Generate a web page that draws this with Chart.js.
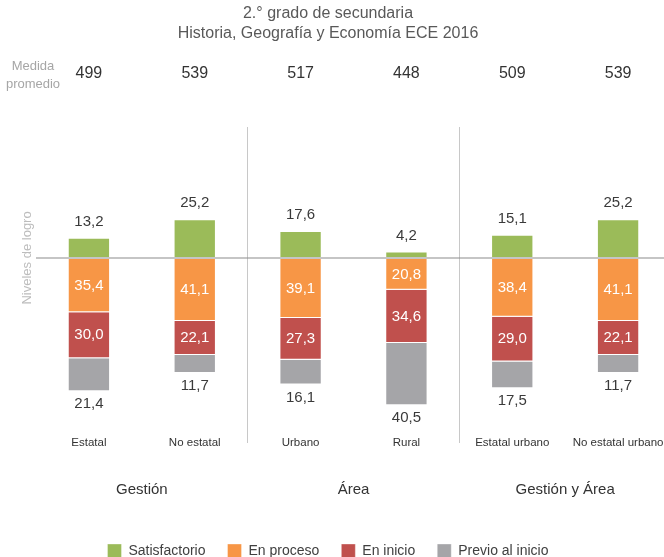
<!DOCTYPE html>
<html>
<head>
<meta charset="utf-8">
<script src="https://cdn.jsdelivr.net/npm/chart.js@4/dist/chart.umd.min.js"></script>
<style>
  html, body { margin: 0; padding: 0; background: #fff; overflow: hidden; }
  #wrap { width: 671px; height: 557px; }
</style>
</head>
<body>
<div id="wrap"><canvas id="chart"></canvas></div>
<script>
var categories = ['Estatal', 'No estatal', 'Urbano', 'Rural', 'Estatal urbano', 'No estatal urbano'];
var groups = ['Gestión', 'Área', 'Gestión y Área'];
var medida = [499, 539, 517, 448, 509, 539];

var satisfactorio = [13.2, 25.2, 17.6, 4.2, 15.1, 25.2];
var enProceso = [35.4, 41.1, 39.1, 20.8, 38.4, 41.1];
var enInicio = [30.0, 22.1, 27.3, 34.6, 29.0, 22.1];
var previo = [21.4, 11.7, 16.1, 40.5, 17.5, 11.7];

var seriesNames = ['Satisfactorio', 'En proceso', 'En inicio', 'Previo al inicio'];
var seriesValues = [satisfactorio, enProceso, enInicio, previo];
var seriesColors = ['#9bbb59', '#f79646', '#c0504d', '#a5a5a8'];

var FONT = '"Liberation Sans", Arial, sans-serif';
var perGroup = categories.length / groups.length;

function fmt(v) {
    return v.toFixed(1).replace('.', ',');
}

// vertical lines between groups (grid lines sit on the category edges)
function sepColor(c) {
    return (c.index > 0 && c.index < categories.length && c.index % perGroup === 0) ? '#c8c8c8' : 'rgba(0,0,0,0)';
}

var extras = {
    id: 'extras',
    afterDatasetsDraw: function(chart) {
        var ctx = chart.ctx;
        var xScale = chart.scales.x;
        var yScale = chart.scales.y;
        ctx.save();
        ctx.textAlign = 'center';
        ctx.textBaseline = 'middle';

        // value labels
        ctx.font = '15px ' + FONT;
        seriesValues.forEach(function(vals, i) {
            chart.getDatasetMeta(i).data.forEach(function(bar, j) {
                var y;
                if (i === 0) {
                    y = bar.y - 16;
                    ctx.fillStyle = '#3a3a3a';
                } else if (i === seriesValues.length - 1) {
                    y = bar.y + 13;
                    ctx.fillStyle = '#3a3a3a';
                } else {
                    y = (bar.y + bar.base) / 2;
                    ctx.fillStyle = '#ffffff';
                }
                ctx.fillText(fmt(vals[j]), bar.x, y);
            });
        });

        // medida promedio row
        var rowY = chart.chartArea.top - 53;
        ctx.font = '16px ' + FONT;
        ctx.fillStyle = '#333333';
        medida.forEach(function(m, j) {
            ctx.fillText(String(m), xScale.getPixelForValue(j), rowY);
        });
        ctx.font = '13px ' + FONT;
        ctx.fillStyle = '#a6a6a6';
        ctx.fillText('Medida', 33, rowY - 8);
        ctx.fillText('promedio', 33, rowY + 10);

        // y title centred on the zero line
        ctx.fillStyle = '#bdbdbd';
        ctx.translate(27, yScale.getPixelForValue(0));
        ctx.rotate(-Math.PI / 2);
        ctx.fillText('Niveles de logro', 0, 0);
        ctx.restore();
    }
};

var datasets = seriesValues.map(function(vals, i) {
    return {
        label: seriesNames[i],
        data: i === 0 ? vals.slice() : vals.map(function(v) { return -v; }),
        backgroundColor: seriesColors[i],
        borderColor: 'rgba(255, 255, 255, 0.35)',
        borderWidth: 1,
        barPercentage: 0.4,
        categoryPercentage: 1
    };
});

var ctx = document.getElementById('chart').getContext('2d');
var chart = new Chart(ctx, {
    type: 'bar',
    data: {
        labels: categories,
        datasets: datasets
    },
    plugins: [extras],
    options: {
        responsive: true,
        maintainAspectRatio: false,
        animation: false,
        layout: {
            padding: { left: -15, right: 0, top: 0, bottom: -11 }
        },
        plugins: {
            title: {
                display: true,
                text: ['2.° grado de secundaria', 'Historia, Geografía y Economía ECE 2016'],
                color: '#595959',
                font: { family: FONT, size: 16, weight: 'normal', lineHeight: 1.2 },
                padding: { top: 4.4, bottom: 84.2 }
            },
            legend: {
                position: 'bottom',
                labels: {
                    boxWidth: 14,
                    boxHeight: 14,
                    padding: 22,
                    color: '#404040',
                    font: { family: FONT, size: 14 }
                }
            },
            tooltip: { enabled: false }
        },
        scales: {
            x: {
                stacked: true,
                offset: true,
                weight: 0,
                grid: {
                    offset: true,
                    color: sepColor,
                    tickColor: sepColor,
                    tickLength: 13,
                    lineWidth: 1
                },
                border: { display: false },
                ticks: {
                    padding: -6.6,
                    maxRotation: 0,
                    color: '#333333',
                    font: { family: FONT, size: 11.5 }
                },
                afterFit: function(s) { s.height = 20; }
            },
            x3: {
                type: 'category',
                labels: groups,
                position: 'bottom',
                offset: true,
                weight: 1,
                grid: { display: false, drawTicks: false },
                border: { display: false },
                ticks: {
                    padding: 31,
                    maxRotation: 0,
                    color: '#333333',
                    font: { family: FONT, size: 15 }
                },
                afterFit: function(s) { s.height = 72; }
            },
            y: {
                stacked: true,
                z: 1,
                min: -112.1,
                max: 85.3,
                afterBuildTicks: function(s) { s.ticks = [{ value: 0 }]; },
                afterFit: function(s) { s.width = 51; },
                grid: { color: 'rgba(140, 140, 140, 0.5)', lineWidth: 2, drawTicks: false },
                border: { display: false },
                ticks: { display: false }
            }
        }
    }
});
</script>
</body>
</html>
